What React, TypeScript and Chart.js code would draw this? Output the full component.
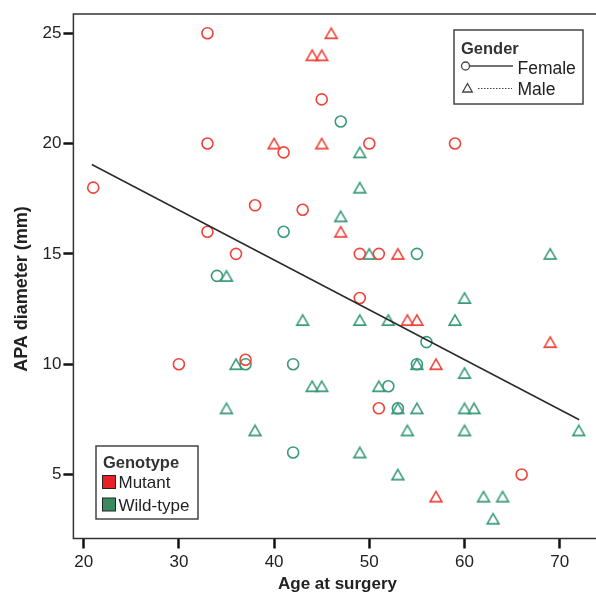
import React, { useEffect, useRef } from "react";
import { Chart, registerables } from "chart.js";

Chart.register(...registerables);

// Mutant, female (red circles)
const mutantFemaleX = [33, 33, 45, 41, 50, 59, 21, 38, 43, 33, 36, 49, 51, 49, 30, 37, 51, 66];
const mutantFemaleY = [25, 20, 22, 19.6, 20, 20, 18, 17.2, 17, 16, 15, 15, 15, 13, 10, 10.2, 8, 5];
// Mutant, male (red triangles)
const mutantMaleX = [46, 44, 45, 40, 45, 47, 53, 54, 55, 69, 57, 57];
const mutantMaleY = [25, 24, 24, 20, 20, 16, 15, 12, 12, 11, 10, 4];
// Wild-type, female (green circles)
const wildFemaleX = [47, 41, 55, 34, 56, 37, 42, 55, 52, 53, 42];
const wildFemaleY = [21, 16, 15, 14, 11, 10, 10, 10, 9, 8, 6];
// Wild-type, male (green triangles)
const wildMaleX = [49, 49, 47, 50, 69, 35, 60, 43, 49, 52, 59, 36, 55, 60, 44, 45, 51, 35, 53, 55, 60, 61, 38, 54, 60, 72, 49, 53, 62, 64, 63];
const wildMaleY = [19.6, 18, 16.7, 15, 15, 14, 13, 12, 12, 12, 12, 10, 10, 9.6, 9, 9, 9, 8, 8, 8, 8, 8, 7, 7, 7, 7, 6, 5, 4, 4, 3];
// Fit line endpoints
const fitX = [20.85, 72.05];
const fitY = [19.05, 7.48];

const xTicks = [20, 30, 40, 50, 60, 70];
const yTicks = [5, 10, 15, 20, 25];

const xTitle = "Age at surgery";
const yTitle = "APA diameter (mm)";
const genderTitle = "Gender";
const genderLabels = ["Female", "Male"];
const genotypeTitle = "Genotype";
const genotypeLabels = ["Mutant", "Wild-type"];

const RED = "#F0443A";
const GREEN = "#3A9A7A";
const RED_SWATCH = "#E8202A";
const GREEN_SWATCH = "#3A8A60";
const FONT = "'Liberation Sans', Arial, Helvetica, sans-serif";

const pts = (xs: number[], ys: number[]) => xs.map((x, i) => ({ x, y: ys[i] }));

function makeTriangle(color: string, r = 6.8, lw = 1.6) {
  const c = document.createElement("canvas");
  c.width = 16;
  c.height = 14;
  const ctx = c.getContext("2d")!;
  const w = r * Math.sqrt(3);
  const h = 1.5 * r;
  const cx = 8, cy = 7;
  ctx.strokeStyle = color;
  ctx.lineWidth = lw;
  ctx.lineJoin = "miter";
  ctx.beginPath();
  ctx.moveTo(cx, cy - h / 2);
  ctx.lineTo(cx + w / 2, cy + h / 2);
  ctx.lineTo(cx - w / 2, cy + h / 2);
  ctx.closePath();
  ctx.stroke();
  return c;
}

const decorPlugin = {
  id: "decor",
  afterDraw(chart: any) {
    const { ctx, chartArea } = chart;
    const { left, top, bottom } = chartArea;
    const right = chart.width + 4;
    ctx.save();
    // frame
    ctx.strokeStyle = "#333";
    ctx.lineWidth = 1.5;
    ctx.strokeRect(left, top, right - left, bottom - top);

    // axis titles
    ctx.fillStyle = "#222";
    ctx.font = `bold 17px ${FONT}`;
    ctx.textAlign = "center";
    ctx.textBaseline = "middle";
    ctx.fillText(xTitle, 337.5, 584);
    ctx.save();
    ctx.translate(22, 289);
    ctx.rotate(-Math.PI / 2);
    ctx.font = `bold 18px ${FONT}`;
    ctx.fillText(yTitle, 0, 0);
    ctx.restore();

    // Gender legend
    ctx.fillStyle = "#fff";
    ctx.fillRect(454, 30, 129, 74);
    ctx.strokeStyle = "#444";
    ctx.lineWidth = 1.5;
    ctx.strokeRect(454, 30, 129, 74);
    ctx.fillStyle = "#333";
    ctx.textAlign = "left";
    ctx.textBaseline = "alphabetic";
    ctx.font = `bold 16.5px ${FONT}`;
    ctx.fillText(genderTitle, 461, 54);
    ctx.font = `17.5px ${FONT}`;
    ctx.fillStyle = "#222";
    ctx.fillText(genderLabels[0], 517.5, 73.5);
    ctx.fillText(genderLabels[1], 517.5, 94.5);
    ctx.strokeStyle = "#444";
    ctx.lineWidth = 1.3;
    ctx.beginPath();
    ctx.arc(465.5, 66, 4, 0, Math.PI * 2);
    ctx.stroke();
    ctx.beginPath();
    ctx.moveTo(470, 66);
    ctx.lineTo(513, 66);
    ctx.stroke();
    ctx.beginPath();
    ctx.moveTo(467.5, 83.5);
    ctx.lineTo(472.3, 92);
    ctx.lineTo(462.7, 92);
    ctx.closePath();
    ctx.stroke();
    ctx.setLineDash([1.5, 1.5]);
    ctx.lineWidth = 1;
    ctx.beginPath();
    ctx.moveTo(478, 88.5);
    ctx.lineTo(512, 88.5);
    ctx.stroke();
    ctx.setLineDash([]);

    // Genotype legend
    ctx.fillStyle = "#fff";
    ctx.fillRect(96, 446, 102, 73);
    ctx.strokeStyle = "#444";
    ctx.lineWidth = 1.5;
    ctx.strokeRect(96, 446, 102, 73);
    ctx.fillStyle = "#333";
    ctx.font = `bold 16.5px ${FONT}`;
    ctx.fillText(genotypeTitle, 103, 467.5);
    ctx.font = `17px ${FONT}`;
    ctx.fillStyle = "#222";
    ctx.fillText(genotypeLabels[0], 118.5, 487.5);
    ctx.fillText(genotypeLabels[1], 118.5, 510.5);
    ctx.lineWidth = 1;
    ctx.strokeStyle = "#222";
    ctx.fillStyle = RED_SWATCH;
    ctx.fillRect(102.5, 475.5, 13, 13);
    ctx.strokeRect(102.5, 475.5, 13, 13);
    ctx.fillStyle = GREEN_SWATCH;
    ctx.fillRect(102.5, 498, 13, 13);
    ctx.strokeRect(102.5, 498, 13, 13);
    ctx.restore();
  },
};

export default function App() {
  const ref = useRef<HTMLCanvasElement | null>(null);
  useEffect(() => {
    if (!ref.current) return;
    const redTri = makeTriangle(RED);
    const greenTri = makeTriangle(GREEN);
    const circle = (color: string) => ({
      pointStyle: "circle",
      pointRadius: 5.5,
      pointBorderWidth: 1.6,
      pointBorderColor: color,
      pointBackgroundColor: "rgba(0,0,0,0)",
      borderColor: color,
      backgroundColor: "rgba(0,0,0,0)",
      showLine: false,
    });
    const tri = (img: HTMLCanvasElement) => ({
      pointStyle: img,
      pointRadius: 7,
      showLine: false,
    });
    const chart = new Chart(ref.current, {
      type: "scatter",
      data: {
        datasets: [
          {
            type: "line",
            label: "fit",
            data: pts(fitX, fitY),
            showLine: true,
            borderColor: "#2a2a2a",
            borderWidth: 1.5,
            pointRadius: 0,
            fill: false,
          } as any,
          { label: "Mutant Female", data: pts(mutantFemaleX, mutantFemaleY), ...circle(RED) } as any,
          { label: "Mutant Male", data: pts(mutantMaleX, mutantMaleY), ...tri(redTri) } as any,
          { label: "Wild-type Female", data: pts(wildFemaleX, wildFemaleY), ...circle(GREEN) } as any,
          { label: "Wild-type Male", data: pts(wildMaleX, wildMaleY), ...tri(greenTri) } as any,
        ],
      },
      options: {
        animation: false,
        responsive: false,
        events: [],
        clip: false,
        layout: { padding: { top: 14, right: 0, left: 0, bottom: 0 } },
        plugins: { legend: { display: false }, tooltip: { enabled: false } },
        scales: {
          x: {
            type: "linear",
            min: 18.92,
            max: 73.39,
            afterBuildTicks: (s: any) => {
              s.ticks = xTicks.map((v) => ({ value: v }));
            },
            afterFit: (s: any) => {
              s.height = 55.5;
              s.paddingLeft = 0;
              s.paddingRight = 0;
            },
            grid: {
              display: true,
              drawOnChartArea: false,
              drawTicks: true,
              tickLength: 10,
              tickWidth: 2.5,
              tickColor: "#111",
            },
            border: { display: false },
            ticks: {
              color: "#222",
              font: { family: FONT, size: 17 },
              padding: 4,
              maxRotation: 0,
            },
          },
          y: {
            type: "linear",
            min: 2.1,
            max: 25.87,
            afterBuildTicks: (s: any) => {
              s.ticks = yTicks.map((v) => ({ value: v }));
            },
            afterFit: (s: any) => {
              s.width = 73.4;
              s.paddingTop = 0;
              s.paddingBottom = 0;
            },
            grid: {
              display: true,
              drawOnChartArea: false,
              drawTicks: true,
              tickLength: 10,
              tickWidth: 2.5,
              tickColor: "#111",
            },
            border: { display: false },
            ticks: {
              color: "#222",
              font: { family: FONT, size: 17 },
              padding: 2,
            },
          },
        },
      },
      plugins: [decorPlugin],
    } as any);
    return () => chart.destroy();
  }, []);
  return (
    <div
      style={{
        position: "fixed",
        left: 0,
        top: 0,
        width: 640,
        height: 594,
        overflow: "hidden",
        background: "#fff",
      }}
    >
      <canvas ref={ref} width={600} height={594} style={{ width: 600, height: 594, display: "block" }} />
    </div>
  );
}
